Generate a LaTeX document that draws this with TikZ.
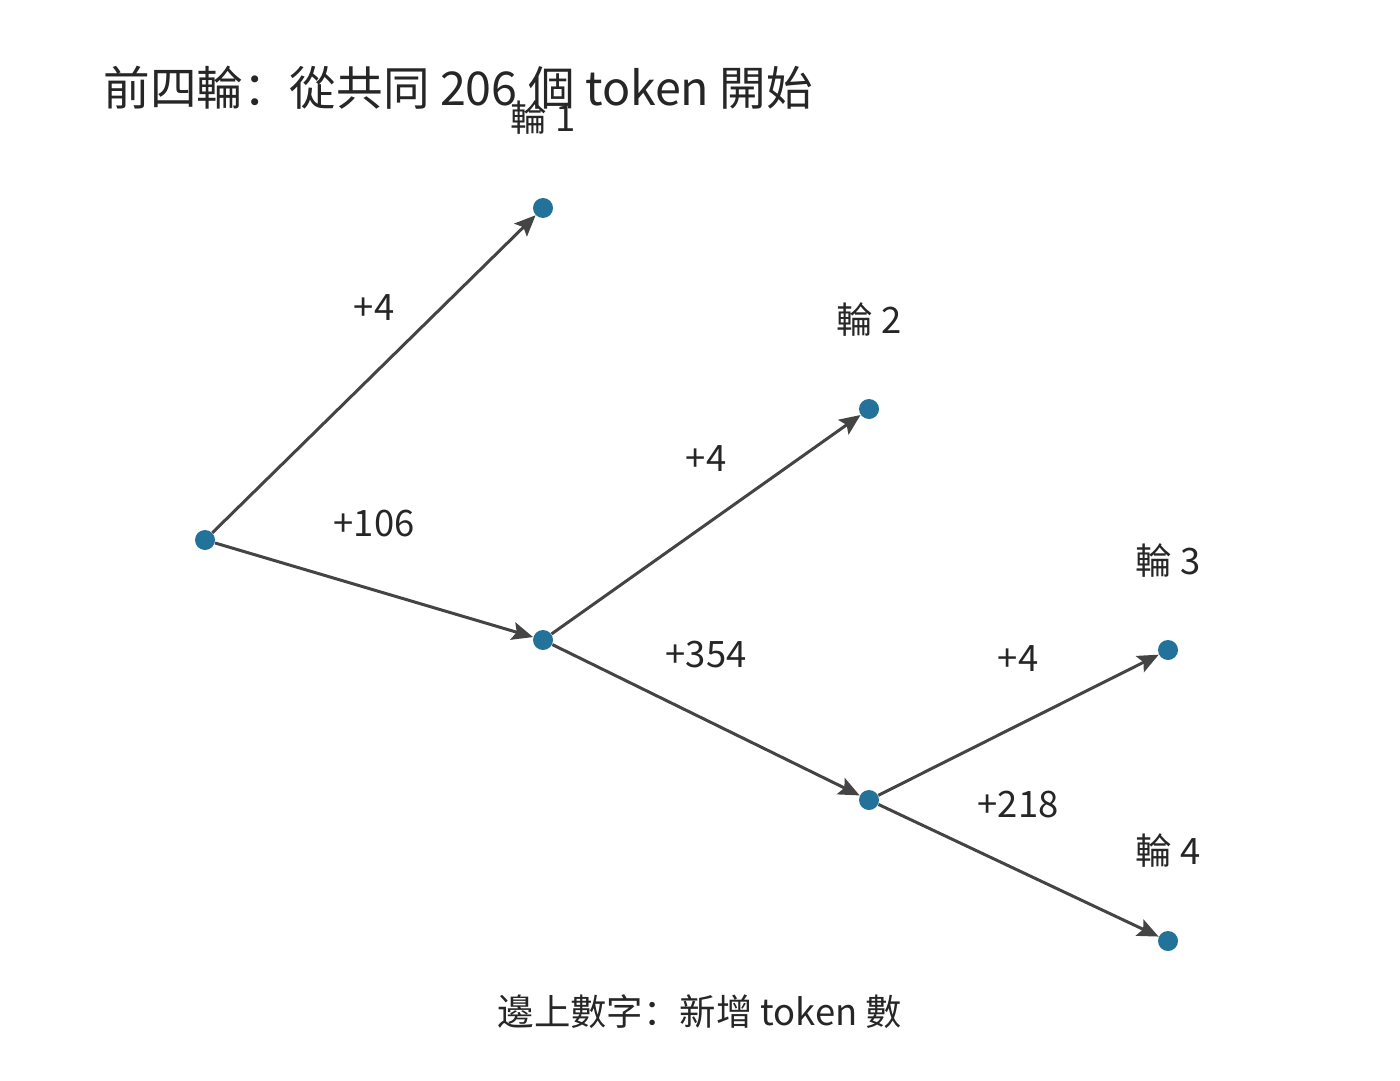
\documentclass[tikz,border=0pt]{standalone}
\usepackage{fontspec}
\setmainfont{Noto Sans CJK SC}
\usetikzlibrary{arrows.meta}
\definecolor{dotblue}{HTML}{22729A}
\definecolor{edgegrey}{HTML}{444444}
\definecolor{txt}{HTML}{262626}
\tikzset{
  dotnode/.style={circle,fill=dotblue,inner sep=0pt,minimum size=10pt},
  edge/.style={draw=edgegrey,line width=1.5pt,-{Stealth[length=10.5pt,width=9pt,inset=2pt]}},
  rlabel/.style={text=txt,font=\fontsize{18.2pt}{22pt}\selectfont,inner sep=0pt},
  elabel/.style={text=txt,font=\fontsize{18.2pt}{22pt}\selectfont,inner sep=0pt},
}
\begin{document}
\begin{tikzpicture}[x=0.5pt,y=-0.5pt]
\useasboundingbox (0,0) rectangle (1400,1080);
\node[anchor=west,text=txt,font=\fontsize{23.3pt}{27pt}\selectfont,inner sep=0pt] (title) at (103,88) {前四輪：從共同 206 個 token 開始};
\node[dotnode] (r) at (205,540) {};
\node[dotnode] (n1) at (543,208) {};
\node[dotnode] (a) at (543,640) {};
\node[dotnode] (n2) at (869,409) {};
\node[dotnode] (b) at (869,800) {};
\node[dotnode] (n3) at (1168,650) {};
\node[dotnode] (n4) at (1168,941) {};
\draw[edge] (r) -- (n1);
\draw[edge] (r) -- (a);
\draw[edge] (a) -- (n2);
\draw[edge] (a) -- (b);
\draw[edge] (b) -- (n3);
\draw[edge] (b) -- (n4);
\node[rlabel] (l1) at (543,118) {輪 1};
\node[rlabel] (l2) at (869,320) {輪 2};
\node[rlabel] (l3) at (1168,561) {輪 3};
\node[rlabel] (l4) at (1168,851) {輪 4};
\node[elabel] (e1) at (374,308) {+4};
\node[elabel] (e2) at (374,524) {+106};
\node[elabel] (e3) at (706,459) {+4};
\node[elabel] (e4) at (706,655) {+354};
\node[elabel] (e5) at (1018,659) {+4};
\node[elabel] (e6) at (1018,805) {+218};
\node[rlabel] (foot) at (700,1012) {邊上數字：新增 token 數};
\end{tikzpicture}
\end{document}
